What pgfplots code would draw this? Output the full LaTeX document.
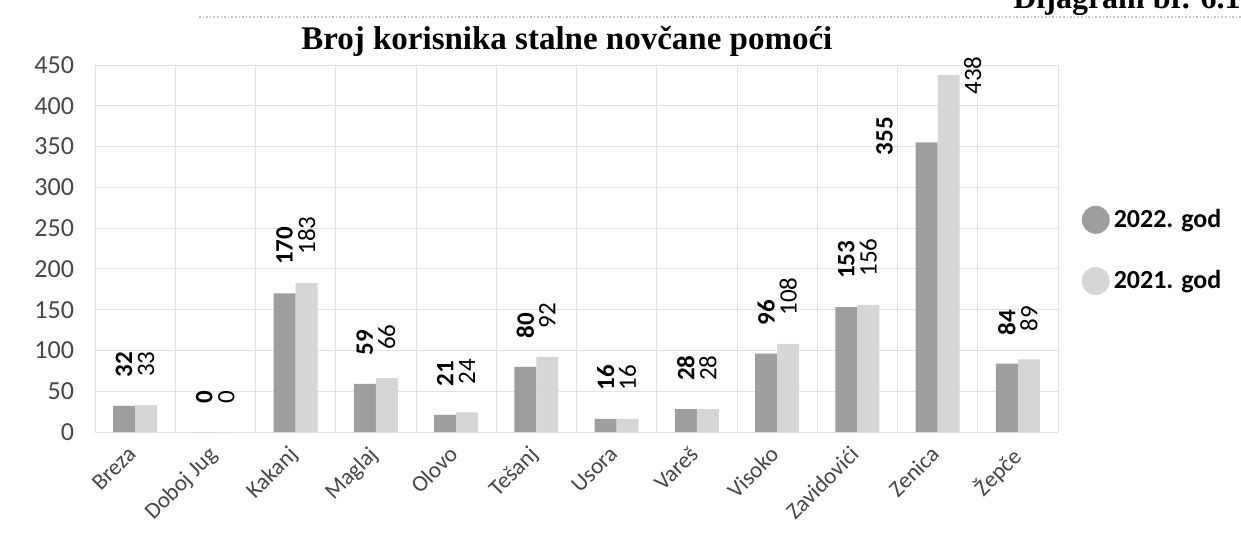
\documentclass[border=0pt]{standalone}
\usepackage{fontspec}
\setmainfont{Carlito}
\newfontfamily\titlefont{Liberation Serif}
\usepackage{pgfplots}
\pgfplotsset{compat=1.18}
\definecolor{cA}{RGB}{158,158,158}
\definecolor{cB}{RGB}{214,214,214}
\definecolor{gridc}{RGB}{226,226,226}
\definecolor{txt}{RGB}{70,70,70}
\begin{document}
\begin{tikzpicture}
\useasboundingbox (-47.5pt,-53pt) rectangle (573pt,216pt);
\draw[gray!45, densely dotted, line width=0.8pt] (52pt,207.5pt) -- (573pt,207.5pt);
\node[anchor=base east, font=\titlefont\bfseries\fontsize{16}{16}\selectfont, inner sep=0pt] at (573pt,212pt) {Dijagram br. 6.1};
\begin{axis}[
  at={(0pt,0pt)}, anchor=south west,
  scale only axis, width=481.5pt, height=183.5pt,
  xmin=-0.5, xmax=11.5, ymin=0, ymax=450,
  ytick={0,50,...,450},
  xtick={0,...,11},
  xticklabels={Breza, Doboj Jug, Kakanj, Maglaj, Olovo, Tešanj, Usora, Vareš, Visoko, Zavidovići, Zenica, Žepče},
  x tick label style={rotate=45, anchor=north east, font=\fontsize{11.5}{11.5}\selectfont, text=txt, yshift=2pt, xshift=-4pt},
  y tick label style={font=\fontsize{13}{13}\selectfont, text=txt, xshift=-7pt},
  /pgf/number format/assume math mode=true,
  minor xtick={-0.5,0.5,...,11.5},
  xminorgrids, ymajorgrids,
  grid style={gridc}, minor grid style={gridc},
  major tick length=0pt, minor tick length=0pt,
  axis line style={draw=none},
  ybar=0pt, bar width=11pt,
  title={Broj korisnika stalne novčane pomoći},
  title style={at={(0.49,1)}, anchor=base, yshift=2pt, font=\titlefont\bfseries\fontsize{16.5}{16.5}\selectfont},
  legend style={at={(1.018,0.63)}, anchor=north west, draw=none, fill=none,
    font=\bfseries\fontsize{13}{13}\selectfont, row sep=16pt},
  legend cell align=left,
  legend image code/.code={\fill[#1,draw=none] (0.22cm,0cm) circle (7pt);},
  nodes near coords,
]
\addplot+[fill=cA, draw=none,
  visualization depends on={ifthenelse(y>300,1,0) \as \isbig},
  every node near coord/.append style={xshift={\isbig*(-21pt)}, yshift={\isbig*(-20.5pt)}, rotate=90, anchor=west, inner xsep=14pt, font=\bfseries\fontsize{12.5}{12.5}\selectfont, text=black}] coordinates {
(0,32) (1,0) (2,170) (3,59) (4,21) (5,80) (6,16) (7,28) (8,96) (9,153) (10,355) (11,84)};
\addplot+[fill=cB, draw=none,
  visualization depends on={ifthenelse(y>400,1,0) \as \isbig},
  every node near coord/.append style={xshift={\isbig*12pt}, yshift={\isbig*(-24pt)}, rotate=90, anchor=west, inner xsep=14pt, font=\fontsize{12.5}{12.5}\selectfont, text=black}] coordinates {
(0,33) (1,0) (2,183) (3,66) (4,24) (5,92) (6,16) (7,28) (8,108) (9,156) (10,438) (11,89)};
\legend{2022. god, 2021. god}
\end{axis}
\end{tikzpicture}
\end{document}
